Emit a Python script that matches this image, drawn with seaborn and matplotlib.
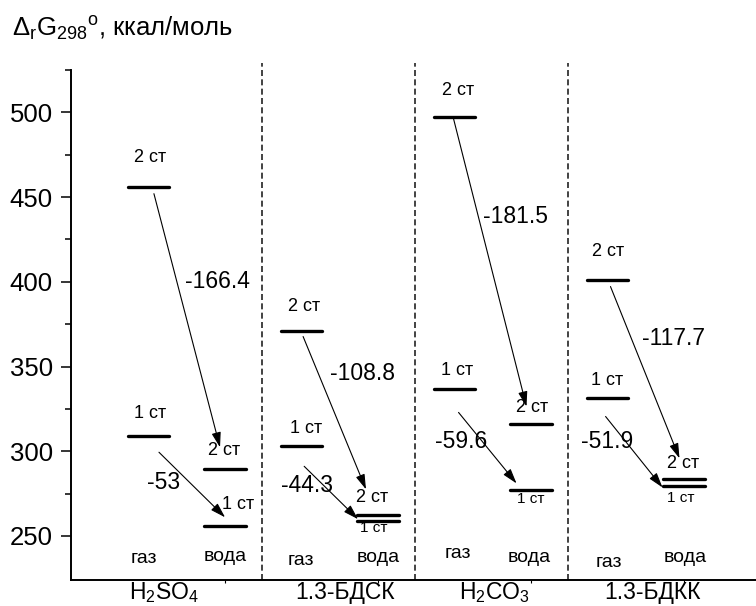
import numpy as np
import pandas as pd
import matplotlib
matplotlib.use('Agg')
import matplotlib.pyplot as plt
import seaborn as sns

# ---------------- data ----------------
compounds = ['$\\mathregular{H_2SO_4}$', '1.3-БДСК', '$\\mathregular{H_2CO_3}$', '1.3-БДКК']
gas_st2 = [456.0, 371.2, 497.5, 401.2]
gas_st1 = [309.0, 303.0, 336.6, 331.2]
water_st2 = [289.6, 262.4, 316.0, 283.5]
water_st1 = [256.0, 258.7, 277.0, 279.3]
dG_st2 = ['-166.4', '-108.8', '-181.5', '-117.7']
dG_st1 = ['-53', '-44.3', '-59.6', '-51.9']
phase_labels = ['газ', 'вода']
level_labels = ['1 ст', '2 ст']
yticks = [250, 300, 350, 400, 450, 500]
ytitle = '$\\mathregular{Δ_r G_{298}{}^{o}}$, ккал/моль'

# ---------------- layout ----------------
GAS_OFF, WATER_OFF, HALF = 0.507, 1.007, 0.136
SEP_OFF = 1.248
arr2 = [(0.035, -4.0, -0.033, 12.7), (0.010, -3.5, -0.079, 15.1),
        (-0.007, -1.2, -0.030, 10.4), (0.019, -4.0, -0.030, 12.3)]
arr1 = [(0.068, -9.6, 0.000, 5.0), (0.017, -11.9, -0.131, 1.2),
        (0.026, -13.7, -0.095, 4.0), (-0.013, -10.7, -0.141, -0.7)]
dG2_pos = [(0.954, 400.2), (0.908, 346.0), (0.902, 438.5), (0.941, 366.6)]
dG1_pos = [(0.608, 281.6), (0.542, 279.9), (0.549, 305.8), (0.503, 305.8)]
lab_g2 = [(0.009, 17.3), (0.016, 14.3), (0.022, 15.3), (0.0, 16.7)]
lab_g1 = [(0.009, 13.4), (0.029, 10.5), (0.016, 11.1), (-0.004, 10.6)]
lab_w2 = [(-0.007, 10.9), (-0.040, 10.4), (0.006, 9.9), (-0.007, 9.4)]
lab_w1 = [(0.085, 12.7), (-0.027, -4.2), (0.0, -5.4), (-0.020, -7.1)]
lab_w1_small = [False, True, True, True]
phase_g = [(-0.033, 234.0), (-0.004, 232.7), (0.019, 237.0), (0.006, 231.5)]
phase_w = [(0.0, 235.2), (0.0, 234.7), (-0.010, 234.7), (0.006, 234.7)]
group_x = [0.608, 1.790, 2.770, 3.800]

sns.set_theme(style='white')
plt.rcParams['font.family'] = ['Liberation Sans', 'DejaVu Sans']
plt.rcParams['mathtext.fontset'] = 'custom'
plt.rcParams['mathtext.rm'] = 'Liberation Sans'
plt.rcParams['mathtext.it'] = 'Liberation Sans:italic'
plt.rcParams['mathtext.bf'] = 'Liberation Sans:bold'
for k in ['text.color', 'axes.labelcolor', 'xtick.color', 'ytick.color',
          'xtick.labelcolor', 'ytick.labelcolor']:
    plt.rcParams[k] = 'black'

fig = plt.figure(figsize=(7.56, 6.06), dpi=100)
ax = fig.add_axes([71 / 756, 1 - 580 / 606, (756 - 71) / 756, 510 / 606])

# level lines via seaborn
rows = []
lid = 0
for i in range(len(compounds)):
    for xc, vals in ((i + GAS_OFF, (gas_st1[i], gas_st2[i])),
                     (i + WATER_OFF, (water_st1[i], water_st2[i]))):
        for v in vals:
            rows.append({'x': xc - HALF, 'E': v, 'lid': lid})
            rows.append({'x': xc + HALF, 'E': v, 'lid': lid})
            lid += 1
df = pd.DataFrame(rows)
sns.lineplot(data=df, x='x', y='E', units='lid', estimator=None, color='black',
             lw=2.4, ax=ax, legend=False, sort=False)

ax.set_xlim(0, (756 - 71) / 153)
ax.set_ylim(224, 525)
ax.set_xlabel('')
ax.set_ylabel('')

# separators
for i in range(3):
    ax.plot([i + SEP_OFF, i + SEP_OFF], [224, 529.3], color='#222222', lw=1.2,
            dashes=(3.6, 2.0), clip_on=False)

arrowprops = dict(arrowstyle='-|>,head_length=0.65,head_width=0.2', mutation_scale=14,
                  color='black', lw=0.8, shrinkA=0, shrinkB=0)
for i in range(len(compounds)):
    gc, wc = i + GAS_OFF, i + WATER_OFF
    sx, sy, ex, ey = arr2[i]
    ax.annotate('', xy=(wc + ex, water_st2[i] + ey), xytext=(gc + sx, gas_st2[i] + sy),
                arrowprops=arrowprops)
    sx, sy, ex, ey = arr1[i]
    ax.annotate('', xy=(wc + ex, water_st1[i] + ey), xytext=(gc + sx, gas_st1[i] + sy),
                arrowprops=arrowprops)
    ax.text(i + dG2_pos[i][0], dG2_pos[i][1], dG_st2[i], fontsize=16.5, ha='center', va='center')
    ax.text(i + dG1_pos[i][0], dG1_pos[i][1], dG_st1[i], fontsize=16.5, ha='center', va='center')
    ax.text(gc + lab_g2[i][0], gas_st2[i] + lab_g2[i][1], level_labels[1], fontsize=13,
            ha='center', va='center')
    ax.text(gc + lab_g1[i][0], gas_st1[i] + lab_g1[i][1], level_labels[0], fontsize=13,
            ha='center', va='center')
    ax.text(wc + lab_w2[i][0], water_st2[i] + lab_w2[i][1], level_labels[1], fontsize=13,
            ha='center', va='center')
    ax.text(wc + lab_w1[i][0], water_st1[i] + lab_w1[i][1], level_labels[0],
            fontsize=11 if lab_w1_small[i] else 13, ha='center', va='center')
    ax.text(gc + phase_g[i][0], phase_g[i][1], phase_labels[0], fontsize=14,
            ha='center', va='baseline')
    ax.text(wc + phase_w[i][0], phase_w[i][1], phase_labels[1], fontsize=14,
            ha='center', va='baseline')
    ax.text(group_x[i], 213.0, compounds[i], fontsize=16.5, ha='center', va='baseline',
            clip_on=False)

# axes styling
for s in ['top', 'right']:
    ax.spines[s].set_visible(False)
for s in ['left', 'bottom']:
    ax.spines[s].set_color('black')
    ax.spines[s].set_linewidth(1.4)
ax.set_yticks(yticks)
ax.set_yticks([275, 325, 375, 425, 475, 525], minor=True)
ax.tick_params(axis='y', which='major', direction='out', length=7.2, width=1.1,
               labelsize=18.5, pad=5.8, left=True, color='black')
ax.tick_params(axis='y', which='minor', direction='out', length=4.3, width=1.1,
               left=True, color='black')
ax.set_xticks([i + WATER_OFF for i in range(4)])
ax.set_xticklabels([])
ax.tick_params(axis='x', which='major', direction='out', length=2.5, width=0.8,
               bottom=True, color='black')

fig.text(12 / 756, 1 - 37 / 606, ytitle, fontsize=18.5, ha='left', va='baseline')

fig.savefig('out.png', dpi=100)
